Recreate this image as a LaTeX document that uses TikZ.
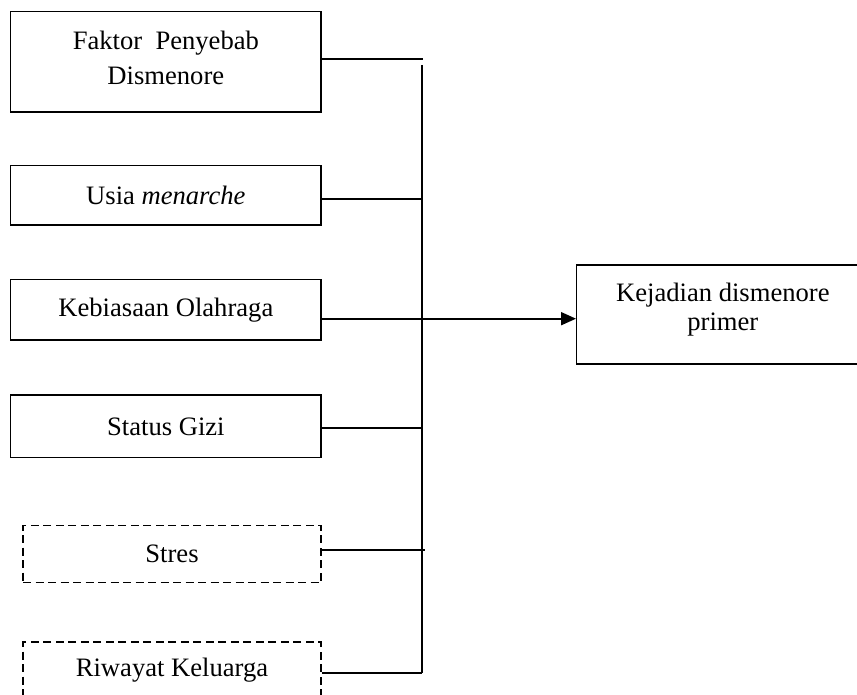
\documentclass[tikz,border=0pt]{standalone}
\usepackage{fontspec}
\setmainfont{Liberation Serif}
\usetikzlibrary{arrows.meta}
\begin{document}
\begin{tikzpicture}[x=1pt,y=-1pt,
  box/.style={draw, line width=1.4pt, inner sep=0pt},
  dbox/.style={box, line width=1.3pt, dash pattern=on 8pt off 4.5pt},
  txt/.style={inner sep=0pt, align=center, font=\fontsize{26.6}{35}\selectfont},
  conn/.style={line width=1.9pt}]
\useasboundingbox (0,0) rectangle (857,695);
\clip (0,0) rectangle (857,695);
% left boxes
\node[box, minimum width=310.3pt, minimum height=100.3pt] (f1) at (165.85,61.85) {};
\node[txt] (t1) at ([yshift=4pt]f1.center) {Faktor~ Penyebab\\Dismenore};
\node[box, txt, minimum width=310.3pt, minimum height=59.3pt] (f2) at (165.85,195.35) {Usia \textit{menarche}};
\node[box, txt, minimum width=310.3pt, minimum height=60.7pt] (f3) at (165.85,309.65) {Kebiasaan Olahraga};
\node[box, txt, minimum width=310.3pt, minimum height=62.7pt] (f4) at (165.85,426.35) {Status Gizi};
\node[dbox, txt, minimum width=298pt, minimum height=57pt] (f5) at (172,554.2) {Stres};
\node[dbox, txt, minimum width=298pt, minimum height=57pt] (f6) at (172,670.5) {Riwayat Keluarga};
% right box
\node[box, minimum width=292.3pt, minimum height=99pt] (out) at (722.85,314.5) {};
\node[txt, font=\fontsize{26.6}{28.5}\selectfont] (tout) at ([yshift=5pt]out.center) {Kejadian dismenore\\primer};
% bus coordinates
\coordinate (bt) at (422,65);
\coordinate (bb) at (422,672.7);
\coordinate (b1) at (423,59);
\coordinate (b2) at (422,199.3);
\coordinate (a3) at (422,318.7);
\coordinate (b4) at (422,428.3);
\coordinate (b5) at (425,550);
\coordinate (b6) at (422,672.7);
% connectors
\draw[conn] (bt) -- (bb);
\draw[conn] (f1.east |- b1) -- (b1);
\draw[conn] (f2.east |- b2) -- (b2);
\draw[conn, -{Triangle[length=15pt,width=13pt]}] (f3.east |- a3) -- (a3 -| out.west);
\draw[conn] (f4.east |- b4) -- (b4);
\draw[conn] (f5.east |- b5) -- (b5);
\draw[conn] (f6.east |- b6) -- (b6);
\end{tikzpicture}
\end{document}
